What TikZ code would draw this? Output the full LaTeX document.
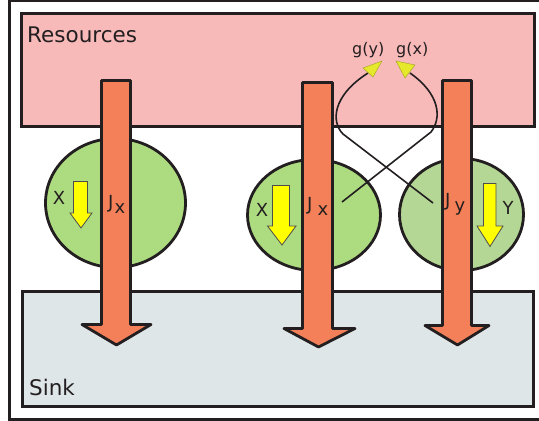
\documentclass[tikz,border=0pt]{standalone}
\usepackage{fontspec}
\setmainfont{DejaVu Sans}
\usetikzlibrary{shapes.geometric}
\definecolor{dark}{HTML}{231F20}
\definecolor{pinkf}{HTML}{F8B9B9}
\definecolor{sinkf}{HTML}{DFE6E8}
\definecolor{greena}{HTML}{ADDB80}
\definecolor{greenb}{HTML}{B5D795}
\definecolor{orangef}{HTML}{F38058}
\definecolor{yellowf}{HTML}{FFFF00}
\definecolor{gyellow}{HTML}{E5E82B}
\begin{document}
\begin{tikzpicture}[x=1pt,y=-1pt,
  regionbox/.style={draw=dark, line width=3pt, inner sep=0, outer sep=0, anchor=north west},
  cell/.style={ellipse, draw=dark, line width=2.8pt, inner sep=0},
  flux/.style={draw=dark, line width=2.8pt, fill=orangef, line join=round},
  smallarrow/.style={draw=dark!80, line width=0.8pt, fill=yellowf},
  link/.style={draw=dark, line width=1.6pt},
  gtip/.style={fill=gyellow, draw=gyellow!70!black, line width=0.4pt},
  lbl/.style={font=\fontsize{18}{18}\selectfont, inner sep=0, text=dark},
  biglbl/.style={font=\fontsize{21.5}{21.5}\selectfont, inner sep=0, text=dark, anchor=base west},
  glbl/.style={font=\fontsize{16}{16}\selectfont, inner sep=0, text=dark, anchor=base west}]
\useasboundingbox (0,0) rectangle (539,421);
% outer frame
\draw[line width=2.5pt, draw=dark] (545,1.2) -- (9.5,1.2) -- (9.5,419.5) -- (545,419.5);
% regions
\node[regionbox, fill=pinkf, minimum width=513pt, minimum height=113pt] (res) at (21.5,13.5) {};
\node[regionbox, fill=sinkf, minimum width=511.5pt, minimum height=115pt] (sink) at (22,291.5) {};
\node[biglbl] (reslbl) at (27,42) {Resources};
\node[biglbl] (sinklbl) at (29,395) {Sink};
% cells
\node[cell, fill=greena, minimum width=140pt, minimum height=129pt] (c1) at (115.5,203) {};
\node[cell, fill=greena, minimum width=133pt, minimum height=111pt] (c2) at (314,215) {};
\node[cell, fill=greenb, minimum width=124pt, minimum height=112pt] (c3) at (461.5,214.5) {};
% flux arrows
\draw[flux] (101.5,80.5) -- (130.5,80.5) -- (130.5,324.5) -- (151,324.5) -- (116.5,345) -- (82,324.5) -- (101.5,324.5) -- cycle;
\draw[flux] (302.5,82.5) -- (332.5,82.5) -- (332.5,328.5) -- (355,328.5) -- (318.5,347) -- (284,328.5) -- (302.5,328.5) -- cycle;
\draw[flux] (442.5,80.5) -- (471.5,80.5) -- (471.5,325.5) -- (489,325.5) -- (457.5,345) -- (425,325.5) -- (442.5,325.5) -- cycle;
% small arrows
\draw[smallarrow] (73.5,181.5) -- (87.5,181.5) -- (87.5,213) -- (92,213) -- (81,228) -- (70,213) -- (73.5,213) -- cycle;
\draw[smallarrow] (272.5,185.5) -- (289.5,185.5) -- (289.5,226) -- (296,226) -- (282,245) -- (267.5,226) -- (272.5,226) -- cycle;
\draw[smallarrow] (483.5,183.5) -- (496,183.5) -- (496,226) -- (503,226) -- (490,246.5) -- (477,226) -- (483.5,226) -- cycle;
% labels
\node[lbl] (x1) at (59,198) {X};
\node[lbl, anchor=base west] (jx1) at (108,208) {J\hspace{1pt}\raisebox{-5pt}{x}};
\node[lbl] (x2) at (262,210) {X};
\node[lbl, anchor=base west] (jx2) at (307,210) {J\hspace{5pt}\raisebox{-5pt}{x}};
\node[lbl] (y3) at (508,208) {Y};
\node[lbl, anchor=base west] (jy3) at (445,206) {J\hspace{4pt}\raisebox{-5pt}{y}};
\node[glbl] (gy) at (352,54) {g(y)};
\node[glbl] (gx) at (396,54) {g(x)};
% connectors
\coordinate (jxend) at (342,202);
\coordinate (jyend) at (433,203);
\coordinate (gytip) at (382,61);
\coordinate (gxtip) at (396,61);
\draw[link] (jyend) -- (343,134) .. controls (331,122) and (332,96) .. (368,73);
\draw[link] (jxend) -- (431,132) .. controls (442,118) and (440,94) .. (410,73);
\fill[gtip] (gytip) -- (363,68) -- (373,77) -- cycle;
\fill[gtip] (gxtip) -- (415,65) -- (405,78) -- cycle;
\end{tikzpicture}
\end{document}
